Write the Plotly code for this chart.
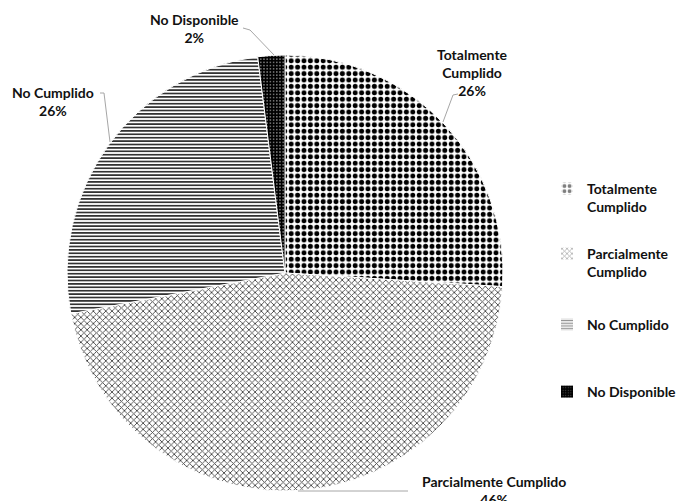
import plotly.graph_objects as go

# Compliance status distribution
categories = ["Totalmente Cumplido", "Parcialmente Cumplido", "No Cumplido", "No Disponible"]
values = [26, 46, 26, 2]
# whether the slice label is broken across lines (label text only)
wrap_label = [True, False, False, False]
legend_text = ["Totalmente<br>Cumplido", "Parcialmente<br>Cumplido", "No Cumplido", "No Disponible"]

W, H = 684, 501
FONT = "Lato"
FSIZE = 14
TXT = "#111111"


def px(x):
    return x / W


def py(y):
    return 1 - y / H


patterns = [
    dict(shape=".", fgcolor="black", bgcolor="white", size=6.4, solidity=0.47),
    dict(shape="x", fgcolor="#444444", bgcolor="white", size=4.4, solidity=0.36),
    dict(shape="-", fgcolor="#2a2a2a", bgcolor="white", size=3.4, solidity=0.48),
    dict(shape=".", fgcolor="#9a9a9a", bgcolor="black", size=3.2, solidity=0.18),
]

fig = go.Figure()

fig.add_trace(go.Pie(
    labels=categories,
    values=values,
    sort=False,
    direction="clockwise",
    rotation=0,
    textinfo="none",
    hoverinfo="label+percent",
    showlegend=False,
    marker=dict(
        colors=["white"] * 4,
        pattern=dict(
            shape=[p["shape"] for p in patterns],
            fgcolor=[p["fgcolor"] for p in patterns],
            bgcolor=[p["bgcolor"] for p in patterns],
            size=[p["size"] for p in patterns],
            solidity=[p["solidity"] for p in patterns],
        ),
        line=dict(color="white", width=1),
    ),
    domain=dict(x=[px(67), px(503)], y=[py(491), py(55)]),
))

# Legend entries: one pattern swatch per status, each in its own legend box
legend_y = [193, 258, 329, 396]
for i, (name, pat) in enumerate(zip(legend_text, patterns)):
    lg = "legend" if i == 0 else f"legend{i + 1}"
    fig.add_trace(go.Bar(
        x=[None], y=[None], name=name, legend=lg,
        marker=dict(color="white", line=dict(width=0), pattern=pat),
        showlegend=True, hoverinfo="skip",
    ))

legend_common = dict(
    bgcolor="rgba(0,0,0,0)", borderwidth=0, valign="top",
    font=dict(family=FONT, size=FSIZE, color=TXT, weight="bold"),
    xanchor="left", yanchor="top", itemclick=False,
)
legends = {}
for i, yy in enumerate(legend_y):
    key = "legend" if i == 0 else f"legend{i + 1}"
    legends[key] = dict(legend_common, x=px(547), y=py(yy - 20))

# Slice labels with leader lines
label_pos = [(472, 72), (494, 490), (53, 101), (194, 29)]
leaders = [
    [(458, 94), (453, 95), (443, 122)],
    [(298, 491), (408, 491)],
    [(100, 93), (104, 93), (110, 142)],
    [(243, 28), (250, 30), (274, 55)],
]
total = sum(values)
annotations = []
for cat, v, wrap, (lx, ly) in zip(categories, values, wrap_label, label_pos):
    name = cat.replace(" ", "<br>") if wrap else cat
    pct = round(100 * v / total)
    annotations.append(dict(
        text=f"<b>{name}<br>{pct}%</b>",
        x=px(lx), y=py(ly), xref="paper", yref="paper",
        xanchor="center", yanchor="middle", showarrow=False,
        font=dict(family=FONT, size=FSIZE, color=TXT),
    ))

shapes = []
for pts in leaders:
    for (x0, y0), (x1, y1) in zip(pts[:-1], pts[1:]):
        shapes.append(dict(
            type="line", xref="paper", yref="paper",
            x0=px(x0), y0=py(y0), x1=px(x1), y1=py(y1),
            line=dict(color="#a6a6a6", width=1),
        ))

fig.update_layout(
    width=W, height=H,
    margin=dict(l=0, r=0, t=0, b=0),
    paper_bgcolor="white", plot_bgcolor="white",
    xaxis=dict(visible=False), yaxis=dict(visible=False),
    annotations=annotations, shapes=shapes,
    **legends,
)

fig.write_html("out.html")
